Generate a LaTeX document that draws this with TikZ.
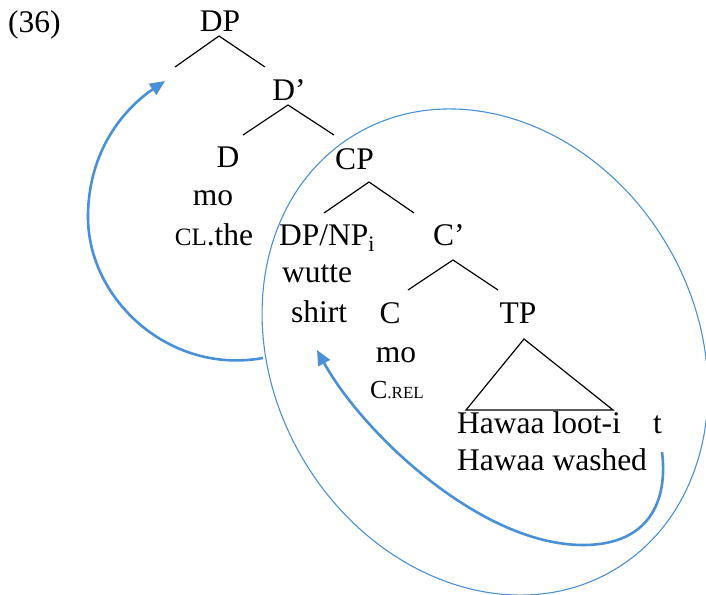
\documentclass[tikz,border=0pt]{standalone}
\usepackage{fontspec}
\setmainfont{Liberation Serif}
\usetikzlibrary{arrows.meta}
\definecolor{moveblue}{RGB}{74,144,214}
\begin{document}
\begin{tikzpicture}[x=1pt,y=-1pt,
  lbl/.style={anchor=base,inner sep=0pt,font=\fontsize{31.5}{37}\selectfont},
  lblw/.style={lbl,anchor=base west},
  branch/.style={draw=black,line width=1.2pt},
  movearrow/.style={draw=moveblue,line width=2.6pt,-{Triangle[length=15pt,width=13pt]}},
  ring/.style={draw=moveblue,line width=1.1pt}]
\useasboundingbox (0,0) rectangle (706,594);
% labels
\node[lblw] (n36) at (8,33) {(36)};
\node[lbl] (dp) at (220,32) {DP};
\node[lbl] (dbar) at (289,100) {D’};
\node[lbl] (d) at (228,167) {D};
\node[lbl] (dmo) at (213,205) {mo};
\node[lbl] (dgl) at (214,245) {{\fontsize{25}{30}\selectfont CL}.the};
\node[lbl] (cp) at (354.5,169) {CP};
\node[lblw] (dpnp) at (279,245) {DP/NP\textsubscript{i}};
\node[lbl] (wutte) at (317,282) {wutte};
\node[lbl] (shirt) at (319,322) {shirt};
\node[lblw] (cbar) at (433,245) {C’};
\node[lbl] (c) at (390,323) {C};
\node[lbl] (tp) at (518,323) {TP};
\node[lbl] (cmo) at (396,362) {mo};
\node[lbl] (cgl) at (397,398) {{\fontsize{26}{30}\selectfont C}{\fontsize{17}{20}\selectfont .REL}};
\node[lblw] (tp1) at (457,433) {Hawaa loot-i};
\node[lblw] (trace) at (653,433) {t};
\node[lblw] (tp2) at (457,470) {Hawaa washed};
% branch points
\coordinate (dpL) at (175,67); \coordinate (dpT) at (219,36); \coordinate (dpR) at (265,67);
\coordinate (dbL) at (243,135); \coordinate (dbT) at (288,105); \coordinate (dbR) at (334,135);
\coordinate (cpL) at (324,213); \coordinate (cpT) at (369,182); \coordinate (cpR) at (414,213);
\coordinate (cbL) at (408,290); \coordinate (cbT) at (453,260); \coordinate (cbR) at (498,290);
\coordinate (triT) at (524,339); \coordinate (triL) at (466,410); \coordinate (triR) at (613,410);
\draw[branch] (dpL) -- (dpT) -- (dpR);
\draw[branch] (dbL) -- (dbT) -- (dbR);
\draw[branch] (cpL) -- (cpT) -- (cpR);
\draw[branch] (cbL) -- (cbT) -- (cbR);
\draw[branch] (triT) -- (triL) -- (triR) -- cycle;
% relative clause ring
\draw[ring, rotate around={-59.3:(485,352)}] (485,352) ellipse [x radius=253.3, y radius=211.2];
% movement arrows
\coordinate (m1s) at (263,358);
\coordinate (m1e) at (165,81);
\draw[movearrow] (m1s) .. controls (170,375) and (88,300) .. (88,217)
  .. controls (88,150) and (125,108) .. (m1e);
\coordinate (m2s) at (662,452);
\coordinate (m2e) at (317,350);
\draw[movearrow] (m2s) .. controls (668,500) and (650,545) .. (583,545)
  .. controls (480,545) and (362,432) .. (m2e);
\end{tikzpicture}
\end{document}
